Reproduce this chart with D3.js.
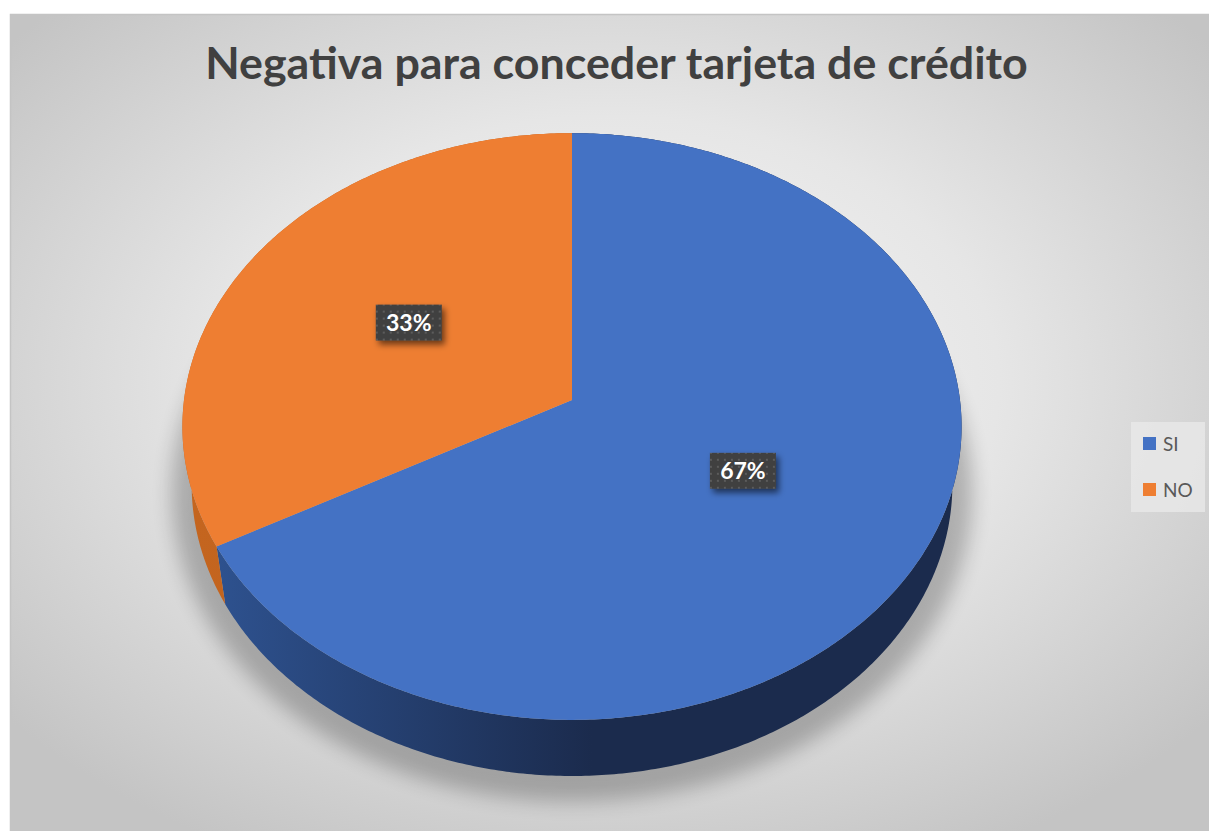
<!DOCTYPE html>
<html>
<head>
<meta charset="utf-8">
<script src="https://cdn.jsdelivr.net/npm/d3@7"></script>
<style>
  html, body { margin: 0; padding: 0; background: #fff; }
  svg { display: block; }
</style>
</head>
<body>
<div class="vis"></div>
<script>
(function() {
  'use strict';

  // chart data
  var categories = ['SI', 'NO'];
  var values = [67, 33];
  var labels = ['67%', '33%'];
  var colors = ['#4472C4', '#EE7E32'];
  var sideColors = [['#2f5493', '#1b2b4d'], ['#c4651f', '#b85d1c']];
  var title = 'Negativa para conceder tarjeta de crédito';

  var W = 1209, H = 831;
  var svg = d3.select('.vis').append('svg')
      .attr('width', W)
      .attr('height', H);

  var defs = svg.append('defs');

  var bg = defs.append('radialGradient')
      .attr('id', 'bg')
      .attr('cx', '50%').attr('cy', '45%').attr('r', '65%');
  bg.append('stop').attr('offset', '0%').attr('stop-color', '#f8f8f8');
  bg.append('stop').attr('offset', '50%').attr('stop-color', '#e6e6e6');
  bg.append('stop').attr('offset', '100%').attr('stop-color', '#c4c4c4');

  defs.append('filter').attr('id', 'blur')
      .attr('x', '-20%').attr('y', '-20%').attr('width', '140%').attr('height', '140%')
    .append('feGaussianBlur').attr('stdDeviation', 10);

  var ds = defs.append('filter').attr('id', 'lblshadow')
      .attr('x', '-30%').attr('y', '-30%').attr('width', '160%').attr('height', '180%');
  ds.append('feDropShadow')
      .attr('dx', 3).attr('dy', 4).attr('stdDeviation', 3)
      .attr('flood-color', '#000').attr('flood-opacity', 0.55);

  var pat = defs.append('pattern')
      .attr('id', 'dots')
      .attr('patternUnits', 'userSpaceOnUse')
      .attr('width', 7).attr('height', 7);
  pat.append('rect').attr('width', 7).attr('height', 7).attr('fill', '#404040');
  pat.append('rect').attr('x', 2).attr('y', 2).attr('width', 2).attr('height', 2).attr('fill', '#5c5c5c');

  // chart area
  svg.append('rect')
      .attr('x', 10).attr('y', 14)
      .attr('width', W - 10).attr('height', H - 14)
      .attr('fill', 'url(#bg)');
  svg.append('path')
      .attr('d', 'M10.5,' + H + 'V14.5H' + W)
      .attr('fill', 'none')
      .attr('stroke', '#c4c4c4')
      .attr('stroke-width', 1.5);

  // perspective pie projection
  var cx = 572, cy = 400,
    sinA = 0.75, cosA = Math.sqrt(1 - sinA * sinA),
    dist = 7.32, focal = 2840, depth = 0.234;

  function proj(theta, r, h) {
    var X = r * Math.sin(theta),
      Z = -r * Math.cos(theta),
      yc = -Z * sinA + h * cosA,
      zc = dist - Z * cosA - h * sinA;
    return [cx + focal * X / zc, cy - focal * yc / zc];
  }

  function arcPts(a0, a1, r, h) {
    var n = Math.max(2, Math.ceil((a1 - a0) / 0.01)), pts = [];
    for (var i = 0; i <= n; i++) {
      pts.push(proj(a0 + (a1 - a0) * i / n, r, h));
    }
    return pts;
  }

  var line = d3.line();
  var pie = d3.pie().sort(null).value(function(d) { return d; });
  var arcs = pie(values);

  // soft shadow behind the pie
  svg.append('path')
      .attr('d', line(arcPts(0, 2 * Math.PI, 1.06, -depth - 0.08)) + 'Z')
      .attr('transform', 'translate(0,-14)')
      .attr('fill', '#000')
      .attr('opacity', 0.24)
      .attr('filter', 'url(#blur)');

  // side walls
  arcs.forEach(function(a, i) {
    var gid = 'side' + i;
    var g = defs.append('linearGradient')
        .attr('id', gid)
        .attr('gradientUnits', 'userSpaceOnUse')
        .attr('x1', cx - 380).attr('x2', cx + 20).attr('y1', 0).attr('y2', 0);
    g.append('stop').attr('offset', '0%').attr('stop-color', sideColors[i][0]);
    g.append('stop').attr('offset', '100%').attr('stop-color', sideColors[i][1]);

    var top = arcPts(a.startAngle, a.endAngle, 1, 0),
      bot = arcPts(a.startAngle, a.endAngle, 1, -depth).reverse();
    svg.append('path')
        .attr('d', line(top.concat(bot)) + 'Z')
        .attr('fill', 'url(#' + gid + ')');
  });

  // top faces
  arcs.forEach(function(a, i) {
    var pts = [proj(0, 0, 0)].concat(arcPts(a.startAngle, a.endAngle, 1, 0));
    svg.append('path')
        .attr('d', line(pts) + 'Z')
        .attr('fill', colors[i]);
  });

  // data labels
  arcs.forEach(function(a, i) {
    var mid = (a.startAngle + a.endAngle) / 2,
      p = proj(mid, 0.5, 0);
    var g = svg.append('g').attr('transform', 'translate(' + p[0] + ',' + (p[1] - 5) + ')');
    g.append('rect')
        .attr('x', -33).attr('y', -18)
        .attr('width', 66).attr('height', 36)
        .attr('fill', 'url(#dots)')
        .attr('filter', 'url(#lblshadow)');
    g.append('text')
        .attr('text-anchor', 'middle')
        .attr('y', 8)
        .attr('font-family', 'Lato, "Open Sans", sans-serif')
        .attr('font-weight', 700)
        .attr('font-size', 23)
        .attr('fill', '#fff')
        .text(labels[i]);
  });

  // title
  var t = svg.append('text')
      .attr('x', 616.5).attr('y', 79)
      .attr('text-anchor', 'middle')
      .attr('font-family', 'Lato, "Open Sans", sans-serif')
      .attr('font-weight', 700)
      .attr('font-size', 45)
      .attr('fill', '#404040')
      .text(title);
  var tw = t.node().getComputedTextLength();
  t.attr('font-size', 45 * 823 / tw);

  // legend
  var lg = svg.append('g');
  lg.append('rect')
      .attr('x', 1131).attr('y', 422)
      .attr('width', 74).attr('height', 90)
      .attr('fill', '#e8e8e8')
      .attr('opacity', 0.8);
  var item = lg.selectAll('.item')
      .data(categories)
      .enter().append('g')
      .attr('class', 'item')
      .attr('transform', function(d, i) { return 'translate(1143,' + (437 + i * 46) + ')'; });
  item.append('rect')
      .attr('width', 13).attr('height', 13)
      .attr('fill', function(d, i) { return colors[i]; });
  item.append('text')
      .attr('x', 20).attr('y', 14)
      .attr('font-family', 'Lato, "Open Sans", sans-serif')
      .attr('font-size', 19)
      .attr('fill', '#595959')
      .text(function(d) { return d; });
}());
</script>
</body>
</html>
